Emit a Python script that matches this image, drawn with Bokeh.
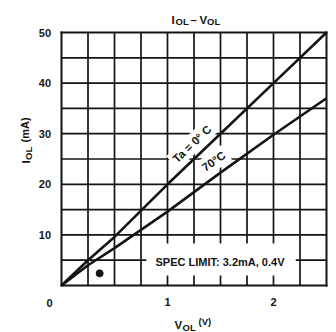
from bokeh.plotting import figure
from bokeh.models import Range1d, Label, BoxAnnotation
from bokeh.core.properties import value
from bokeh.embed import file_html
from bokeh.resources import INLINE

# ---- data ----
v_ol = [0, 0.25, 0.5, 1.0, 1.5, 2.0, 2.5]            # V_OL (V)
i_ol_0c = [0, 5.0, 9.6, 20.0, 30.0, 40.0, 50.0]      # Ta = 0 C  (mA)
i_ol_70c = [0, 4.0, 7.4, 14.6, 22.3, 29.8, 37.0]     # 70 C (mA)
spec_v = [0.36]
spec_i = [2.4]
x_ticks = [1, 2]
x_tick_labels = ["1", "2"]
y_ticks = [10, 20, 30, 40, 50]
y_tick_labels = ["10", "20", "30", "40", "50"]
x_grid = [0, 0.25, 0.5, 0.75, 1.0, 1.25, 1.5, 1.75, 2.0, 2.25, 2.5]
y_grid = [0, 5, 10, 15, 20, 25, 30, 35, 40, 45, 50]

FONT = "Liberation Sans"
INK = "#141414"
WEIGHT = "bold"

W, H = 336, 332
L, R, T, B = 61, 10, 32, 47          # chart box inside the canvas (px)
X0, X1, Y0, Y1 = 0.0, 2.5, 0.0, 50.0
FW, FH = W - L - R, H - T - B


def dx(px):
    return X0 + (px - L) / FW * (X1 - X0)


def dy(py):
    return Y0 + (H - B - py) / FH * (Y1 - Y0)


# the frame covers the whole canvas so that titles can be drawn as text
p = figure(width=W, height=H, output_backend="svg", toolbar_location=None,
           x_range=Range1d(dx(0), dx(W)), y_range=Range1d(dy(H), dy(0)),
           x_axis_type=None, y_axis_type=None,
           min_border=0, min_border_left=0, min_border_right=0,
           min_border_top=0, min_border_bottom=0,
           background_fill_color="white", border_fill_color="white")
p.outline_line_color = None
p.grid.visible = False

# chart grid
inner_x = x_grid[1:-1]
inner_y = y_grid[1:-1]
p.segment(x0=inner_x, y0=[Y0] * len(inner_x), x1=inner_x, y1=[Y1] * len(inner_x),
          line_color=INK, line_width=1.7)
p.segment(x0=[X0] * len(inner_y), y0=inner_y, x1=[X1] * len(inner_y), y1=inner_y,
          line_color=INK, line_width=1.7)
# chart border
p.segment(x0=[X0, X1, X0, X0], y0=[Y0, Y0, Y0, Y1],
          x1=[X0, X1, X1, X1], y1=[Y1, Y1, Y0, Y1],
          line_color=INK, line_width=2, line_cap="square")

# curves and spec point
p.line(v_ol, i_ol_0c, line_width=2.6, line_color=INK)
p.line(v_ol, i_ol_70c, line_width=2.6, line_color=INK)
p.scatter(spec_v, spec_i, size=7, fill_color=INK, line_color=INK)

# tick labels
p.text(x=x_ticks, y=[dy(301.5)] * len(x_ticks), text=x_tick_labels,
       text_font=value(FONT), text_font_size="11px", text_font_style=WEIGHT,
       text_color=INK, text_align="center", text_baseline="middle")
p.text(x=[dx(50.5)] * len(y_ticks), y=y_ticks, text=y_tick_labels,
       text_font=value(FONT), text_font_size="11px", text_font_style=WEIGHT,
       text_color=INK, text_align="right", text_baseline="middle")


def lab(px, py, text, size, align="left", baseline="alphabetic", angle=0,
        bg=None, pad=0):
    kw = dict(x=dx(px), y=dy(py), text=text, text_font=FONT,
              text_font_size=f"{size}px", text_font_style=WEIGHT,
              text_color=INK, text_align=align, text_baseline=baseline,
              angle=angle, angle_units="deg")
    if bg is not None:
        kw.update(background_fill_color=bg, background_fill_alpha=1.0,
                  padding=pad)
    p.add_layout(Label(**kw))


# white gap behind the spec-limit note
p.add_layout(BoxAnnotation(left=0.8, right=2.21, bottom=2.0, top=8.3,
                           fill_color="white", fill_alpha=1.0,
                           line_color=None, level="annotation"))
lab(221, 261, "SPEC LIMIT:  3.2mA, 0.4V", 11, align="center",
    baseline="middle")

# curve labels
lab(191.5, 143.5, "Ta = 0° C", 11.5, align="center", baseline="middle",
    angle=43.7, bg="white", pad=3)
lab(213.3, 160.8, "70°C", 11.5, align="center", baseline="middle",
    angle=35.2, bg="white", pad=3)

# corner zero
lab(49, 302, "0", 11, align="center", baseline="middle")

# title  I_OL - V_OL
lab(171, 19, "I", 11.5)
lab(175, 21, "OL", 9.5)
lab(190, 19, "–", 11.5)
lab(199, 19, "V", 11.5)
lab(206.5, 21, "OL", 9.5)

# x title  V_OL (V)
lab(174, 324, "V", 11.5)
lab(182, 327, "OL", 9.5)
lab(198, 321, "(V)", 9.5)

# y title  I_OL (mA)  (rotated, reads upward)
lab(25, 163, "I", 11.5, angle=90)
lab(27.5, 159.5, "OL", 9.5, angle=90)
lab(24, 142, "(mA)", 11, angle=90)

open("out.html", "w").write(file_html(p, INLINE))
